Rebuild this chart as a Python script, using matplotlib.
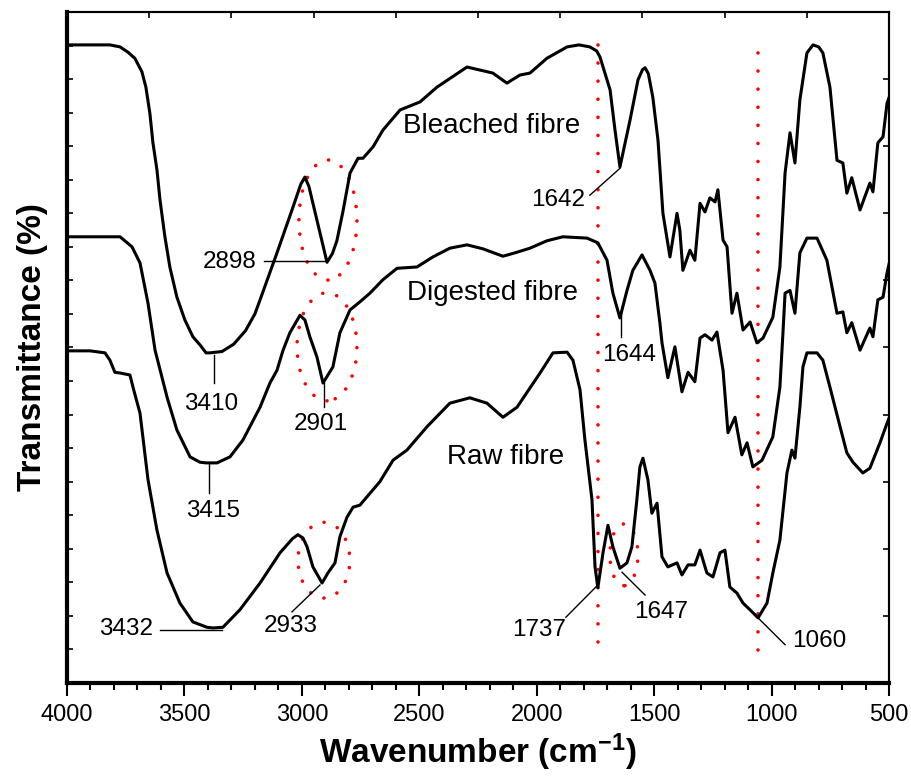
import numpy as np
import matplotlib
matplotlib.use('Agg')
import matplotlib.pyplot as plt
from matplotlib.patches import Ellipse
from matplotlib.ticker import MultipleLocator

plt.rcParams['font.family'] = ['Liberation Sans', 'DejaVu Sans']
plt.rcParams['mathtext.fontset'] = 'custom'
plt.rcParams['mathtext.rm'] = 'Liberation Sans'
plt.rcParams['mathtext.bf'] = 'Liberation Sans:bold'

# FTIR spectra (wavenumber cm-1, transmittance in arbitrary %)
bleached_wn = [4000, 3817, 3774, 3740, 3711, 3681, 3664, 3647, 3634, 3617, 3604, 3583, 3562,
               3532, 3498, 3464, 3434, 3408, 3391, 3340, 3290, 3240, 3200, 3178, 3106, 3038,
               3005, 2987, 2970, 2953, 2923, 2893, 2870, 2851, 2825, 2795, 2761,
               2740, 2697, 2655, 2582, 2497, 2425, 2297, 2187, 2127, 2072, 2029, 1957, 1871,
               1820, 1774, 1745, 1731, 1688, 1667, 1646, 1603, 1569, 1550, 1539, 1525, 1506,
               1484, 1463, 1433, 1403,
               1391, 1378, 1348, 1327, 1305, 1284, 1263, 1241, 1229, 1207, 1190, 1169, 1148,
               1122, 1092, 1063, 1037, 995, 965, 943, 922, 901, 880, 850, 824, 800, 782, 752,
               722, 697, 680, 659, 624, 582, 569, 548, 526, 509, 500]
bleached_t = [95.1, 95.1, 94.8, 94.0, 93.1, 91.1, 88.8, 84.9, 80.5, 76.5, 72.0, 66.5, 62.0,
              57.5, 54.1, 51.6, 50.4, 49.2, 49.2, 49.4, 50.5, 52.5, 55.0, 57.1, 64.1, 70.9,
              74.3, 75.4, 74.0, 71.5, 67.1, 62.7, 64.0, 65.9, 70.3, 76.0, 78.2,
              78.2, 79.9, 82.4, 85.4, 86.6, 88.8, 91.8, 90.9, 89.4, 90.6, 90.9, 93.1, 94.8,
              95.1, 94.8, 94.2, 93.3, 88.4, 82.4, 76.9, 83.9, 89.9, 91.4, 91.7, 90.8, 87.3,
              80.9, 70.0, 63.5, 70.0,
              67.5, 61.5, 64.5, 63.0, 71.5, 70.2, 72.3, 71.7, 73.5, 66.0, 65.0, 55.1, 58.1,
              52.6, 53.8, 50.7, 51.4, 54.5, 62.0, 76.0, 82.0, 77.5, 86.9, 93.9, 95.1, 94.8, 93.9, 88.8,
              77.9, 77.5, 73.0, 75.3, 70.5, 74.5, 73.2, 80.5, 81.4, 86.4, 87.3]

digested_wn = [4000, 3774, 3723, 3689, 3655, 3625, 3574, 3532, 3476, 3434, 3408, 3361, 3306,
               3251, 3178, 3136, 3106, 3080, 3051, 3008, 2987, 2966, 2936, 2910, 2868, 2838,
               2795, 2753, 2710, 2655, 2595, 2510, 2442, 2370, 2297, 2229, 2144, 2084, 2029,
               1957, 1889, 1786, 1740, 1701, 1676, 1646, 1616, 1591, 1552, 1518, 1497, 1476,
               1467, 1442, 1412, 1382, 1356, 1327, 1305, 1284, 1254, 1233, 1207, 1186, 1156,
               1127, 1105, 1080, 1041, 995, 965, 952, 943, 922, 901, 880, 850, 807, 765, 722,
               697, 680, 659, 624, 582, 569, 548, 526, 509, 500]
digested_t = [66.5, 66.5, 65.0, 62.6, 56.6, 49.6, 42.6, 37.7, 33.7, 32.9, 32.8, 32.8, 33.7,
              36.2, 41.1, 44.7, 46.6, 49.6, 52.2, 54.8, 54.1, 51.6, 48.6, 44.7, 47.1, 52.2,
              55.6, 56.8, 58.1, 60.1, 61.8, 62.0, 63.5, 64.8, 65.3, 64.7, 63.6, 64.2, 64.8,
              65.9, 66.5, 66.3, 65.6, 63.0, 58.1, 54.4, 58.5, 61.5, 63.8, 61.5, 59.6, 53.7,
              50.7, 45.5, 50.1, 43.4, 46.3, 44.9, 51.4, 51.9, 51.1, 52.3, 46.6, 37.3, 39.6,
              34.0, 35.8, 32.2, 33.2, 36.7, 44.1, 52.2, 58.1, 58.5, 55.1, 64.1, 66.3, 66.3,
              63.0, 55.1, 55.3, 52.2, 53.7, 49.6, 52.9, 51.6, 57.1, 57.5, 61.1, 62.5]

raw_wn = [4000, 3902, 3838, 3817, 3796, 3774, 3732, 3719, 3689, 3655, 3617, 3574, 3519, 3464,
          3404, 3378, 3336, 3264, 3178, 3093, 3040, 3017, 2995, 2978, 2953, 2914, 2889, 2859,
          2838, 2808, 2782, 2753, 2668, 2612, 2553, 2467, 2370, 2285, 2212, 2144, 2084, 1986,
          1931, 1871, 1846, 1816, 1795, 1765, 1752, 1740, 1718, 1697, 1676, 1646, 1616, 1595,
          1574, 1561, 1548, 1527, 1510, 1488, 1467, 1442, 1403, 1382, 1356, 1327, 1305, 1276,
          1250, 1220, 1199, 1178, 1148, 1122, 1092, 1058, 1020, 995, 965, 935, 914, 901, 880,
          867, 850, 807, 782, 752, 709, 680, 654, 612, 582, 539, 509, 500]
raw_t = [49.5, 49.5, 49.2, 48.1, 46.3, 46.2, 45.9, 44.1, 40.2, 30.3, 22.8, 16.4, 11.9, 9.1,
         8.3, 8.2, 8.3, 10.9, 14.9, 19.4, 21.5, 22.1, 21.6, 20.3, 17.3, 14.9, 16.4, 17.9,
         21.8, 24.7, 26.2, 26.5, 30.0, 33.2, 34.7, 38.2, 41.7, 42.5, 41.7, 39.6, 41.1, 46.2,
         49.2, 49.3, 48.1, 43.7, 36.2, 27.3, 17.3, 14.2, 19.4, 23.5, 20.3, 17.1, 17.9, 20.3,
         27.3, 32.2, 33.5, 30.3, 25.3, 26.8, 18.8, 17.3, 17.9, 16.1, 17.6, 17.6, 19.8, 16.4,
         15.8, 19.4, 19.8, 14.3, 13.4, 11.9, 10.9, 9.7, 11.9, 16.4, 21.3, 31.3, 34.7, 33.5,
         41.1, 47.1, 49.2, 49.2, 48.1, 44.1, 38.2, 34.3, 32.9, 31.3, 32.0, 35.8, 38.7, 39.5]

# curve names and where they sit
curve_names = ['Bleached fibre', 'Digested fibre', 'Raw fibre']
curve_name_pos = [(2191, 83.0), (2187, 58.1), (2131, 33.7)]

# peak labels: text, text position, leader line start, leader line end
peak_labels = ['2898', '3410', '2901', '3415', '3432', '2933', '1642', '1644', '1737', '1647', '1060']
peak_text_pos = [(3306, 62.7), (3387, 41.6), (2919, 38.6), (3378, 25.6), (3749, 8.0), (3046, 8.5),
                 (1910, 72.0), (1608, 48.9), (1991, 7.9), (1471, 10.6), (799, 6.3)]
leader_start = [(3161, 62.9), (3374, 44.7), (2906, 41.1), (3395, 28.3), (3604, 7.9), (3042, 10.6),
                (1774, 72.7), (1642, 51.6), (1876, 9.8), (1539, 13.1), (943, 5.7)]
leader_end = [(2893, 62.9), (3374, 48.9), (2906, 44.7), (3395, 32.8), (3340, 7.9), (2923, 14.6),
              (1646, 76.7), (1642, 55.1), (1740, 14.6), (1637, 16.5), (1058, 9.7)]

# red dotted guides
vline_wn = [1740, 1058]
vline_span = [(6.1, 96.9), (4.9, 95.5)]
ellipse_center = [(2889, 69.0), (2893, 50.1), (2906, 18.3), (1629, 19.1)]
ellipse_size = [(247, 17.9), (255, 16.1), (221, 11.3), (119, 9.2)]

fig = plt.figure(figsize=(9.11, 7.80), dpi=100)
ax = fig.add_axes([0.0735, 0.1244, 0.9025, 0.8602])

for wn, t in [(bleached_wn, bleached_t), (digested_wn, digested_t), (raw_wn, raw_t)]:
    ax.plot(wn, t, color='black', lw=2.2, solid_joinstyle='round', zorder=3)

for x, (y0, y1) in zip(vline_wn, vline_span):
    ax.plot([x, x], [y0, y1], color='red', lw=2.6, linestyle=(0, (0.01, 5.0)),
            dash_capstyle='round', zorder=2)

for (cx, cy), (w, h) in zip(ellipse_center, ellipse_size):
    ax.add_patch(Ellipse((cx, cy), w, h, fill=False, edgecolor='red', lw=2.6,
                         linestyle=(0, (0.01, 4.0)), capstyle='round', zorder=2))

for name, (x, y) in zip(curve_names, curve_name_pos):
    ax.text(x, y, name, fontsize=20, ha='center', va='center')

for lab, tp, s, e in zip(peak_labels, peak_text_pos, leader_start, leader_end):
    ax.plot([s[0], e[0]], [s[1], e[1]], color='black', lw=1.0, zorder=4)
    ax.text(tp[0], tp[1], lab, fontsize=17.5, ha='center', va='center')

ax.set_xlim(4000, 500)
ax.set_ylim(0, 100)
ax.xaxis.set_major_locator(MultipleLocator(500))
ax.xaxis.set_minor_locator(MultipleLocator(100))
ax.yaxis.set_major_locator(MultipleLocator(10))
ax.yaxis.set_minor_locator(MultipleLocator(5))
ax.tick_params(axis='x', which='major', direction='out', length=9, width=1.5, labelsize=17, pad=6)
ax.tick_params(axis='x', which='minor', direction='out', length=5, width=1.5)
ax.tick_params(axis='y', which='both', direction='in', length=4, width=1.2, labelleft=False)

for side in ['left', 'bottom']:
    ax.spines[side].set_linewidth(3)
for side in ['top', 'right']:
    ax.spines[side].set_linewidth(1.5)

top = ax.secondary_xaxis('top')
top.set_xticks(np.arange(500, 4001, 350))
top.tick_params(direction='in', length=4, width=1.2, labeltop=False)
top.spines['top'].set_linewidth(1.5)
right = ax.secondary_yaxis('right')
right.set_yticks(np.arange(0, 101, 10))
right.tick_params(direction='in', length=4, width=1.2, labelright=False)
right.spines['right'].set_linewidth(1.5)

ax.set_xlabel(r'Wavenumber (cm$\mathbf{^{-1}}$)', fontsize=24, fontweight='bold', labelpad=4)
ax.set_ylabel('Transmittance (%)', fontsize=24, fontweight='bold', labelpad=14)

fig.savefig('out.png', dpi=100)
